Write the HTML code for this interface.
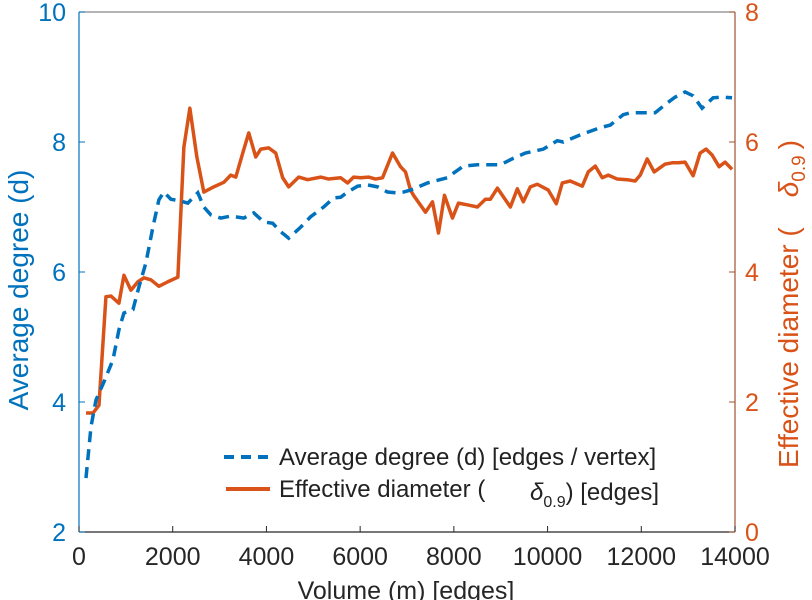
<!DOCTYPE html>
<html><head><meta charset="utf-8"><style>
body{margin:0;background:#fff;}
svg{display:block;font-family:"Liberation Sans",sans-serif;}
</style></head><body>
<svg id="chart" width="812" height="600" viewBox="0 0 812 600">
<g id="axes"></g>
<g id="series"></g>
<g>
  <line x1="224" y1="457" x2="268" y2="457" stroke="#0072BD" stroke-width="4" stroke-dasharray="10,7"/>
  <text x="279" y="465" font-size="24" fill="#222">Average degree (d) [edges / vertex]</text>
  <line x1="226" y1="489" x2="270" y2="489" stroke="#D95319" stroke-width="4"/>
  <text x="279" y="497" font-size="24" fill="#222">Effective diameter (</text>
  <text x="530" y="500" font-size="24" font-style="italic" fill="#222">δ<tspan font-size="16" font-style="normal" dy="7">0.9</tspan><tspan font-style="normal" dy="-7">) [edges]</tspan></text>
</g>
</svg>
<script>
const xTicks=[0,2000,4000,6000,8000,10000,12000,14000];
const leftTicks=[2,4,6,8,10];
const rightTicks=[0,2,4,6,8];
const degX=[149,256,362,533,725,852,959,1151,1279,1428,1577,1705,1811,1961,2174,2323,2536,2664,2813,3026,3239,3516,3729,3942,4134,4305,4475,4731,4944,5221,5434,5583,5732,5945,6158,6372,6585,6755,6926,7075,7437,7864,7991,8205,8503,8993,9270,9526,9909,10207,10335,10697,11124,11337,11614,11763,12296,12552,12722,12935,13106,13298,13532,13745,13937];
const degY=[2.83,3.62,4.03,4.31,4.65,5.11,5.37,5.42,5.77,6.14,6.69,7.11,7.23,7.12,7.09,7.06,7.22,7.00,6.88,6.83,6.86,6.83,6.91,6.77,6.75,6.62,6.52,6.69,6.85,7.00,7.14,7.15,7.23,7.32,7.34,7.31,7.23,7.22,7.23,7.26,7.37,7.45,7.52,7.63,7.65,7.65,7.75,7.83,7.89,8.02,8.00,8.11,8.22,8.26,8.42,8.45,8.45,8.60,8.69,8.77,8.71,8.52,8.68,8.69,8.68];
const diaX=[149,298,426,575,682,852,959,1108,1257,1385,1534,1705,1897,2110,2238,2366,2515,2664,2877,3090,3239,3346,3495,3623,3772,3878,4049,4198,4347,4475,4688,4880,5157,5328,5583,5732,5860,6009,6180,6329,6478,6691,6862,6968,7075,7139,7395,7544,7672,7800,7970,8098,8311,8503,8673,8780,8929,9206,9355,9483,9632,9781,10016,10186,10314,10484,10740,10868,11018,11167,11295,11487,11700,11870,11977,12126,12275,12509,12658,12786,12935,13106,13255,13383,13511,13660,13788,13937];
const diaY=[1.83,1.83,1.95,3.62,3.63,3.52,3.95,3.72,3.85,3.91,3.88,3.78,3.85,3.92,5.92,6.52,5.77,5.23,5.31,5.38,5.49,5.46,5.83,6.14,5.77,5.89,5.91,5.83,5.45,5.31,5.46,5.42,5.46,5.43,5.45,5.37,5.46,5.45,5.46,5.43,5.45,5.83,5.62,5.54,5.26,5.18,4.92,5.08,4.60,5.18,4.83,5.06,5.03,5.00,5.12,5.12,5.29,5.00,5.28,5.08,5.31,5.35,5.26,5.05,5.37,5.40,5.32,5.54,5.63,5.45,5.49,5.43,5.42,5.40,5.49,5.74,5.54,5.66,5.68,5.68,5.69,5.48,5.83,5.89,5.80,5.62,5.69,5.58];

const L=79,R=735,T=12,B=532;
const xs=v=>L+(v-0)/14000*(R-L);
const yl=v=>B-(v-2)/8*(B-T);
const yr=v=>B-v/8*(B-T);
const NS='http://www.w3.org/2000/svg';
function mk(tag,attrs,parent){const e=document.createElementNS(NS,tag);for(const k in attrs)e.setAttribute(k,attrs[k]);parent.appendChild(e);return e;}
const ax=document.getElementById('axes');
const se=document.getElementById('series');

let e=mk('line',{x1:L,y1:B,x2:R,y2:B,stroke:'#262626','stroke-width':1.2},ax);


e=mk('line',{x1:L,y1:T,x2:R,y2:T,stroke:'#888','stroke-width':1.2},ax);


e=mk('line',{x1:L,y1:T,x2:L,y2:B,stroke:'#0072BD','stroke-width':1.2},ax);


e=mk('line',{x1:R,y1:T,x2:R,y2:B,stroke:'#a0522d','stroke-width':1.2},ax);



xTicks.forEach(t=>{
  const x=xs(t);
  let l=mk('line',{x1:x,y1:B,x2:x,y2:B-6,stroke:'#262626','stroke-width':1},ax);
  
  
  let tx=mk('text',{x:x,y:B+33,'text-anchor':'middle','font-size':25,fill:'#262626'},ax);
  tx.textContent=t;
  
  
});
leftTicks.forEach(t=>{
  const y=yl(t);
  let l=mk('line',{x1:L,y1:y,x2:L+6,y2:y,stroke:'#0072BD','stroke-width':1},ax);
  
  
  let tx=mk('text',{x:L-13,y:y+9,'text-anchor':'end','font-size':25,fill:'#0072BD'},ax);
  tx.textContent=t;
  
  
});
rightTicks.forEach(t=>{
  const y=yr(t);
  let l=mk('line',{x1:R,y1:y,x2:R-6,y2:y,stroke:'#a0522d','stroke-width':1},ax);
  
  
  let tx=mk('text',{x:R+10,y:y+9,'text-anchor':'start','font-size':25,fill:'#D95319'},ax);
  tx.textContent=t;
  
  
});
let xl=mk('text',{x:406,y:599,'text-anchor':'middle','font-size':25,fill:'#262626'},ax);
xl.textContent='Volume (m) [edges]';


let ylt=mk('text',{x:0,y:0,'text-anchor':'middle','font-size':28,fill:'#0072BD',transform:'translate(28,290) rotate(-90)'},ax);
ylt.textContent='Average degree (d)';


let yrt=mk('text',{x:0,y:0,'text-anchor':'start','font-size':28,fill:'#D95319',transform:'translate(798,468) rotate(-90)'},ax);


yrt.innerHTML='Effective diameter (<tspan dx="30" font-style="italic">δ</tspan><tspan font-size="19" dy="7">0.9</tspan><tspan dy="-7" dx="6">)</tspan>';

let p1=mk('polyline',{points:diaX.map((v,i)=>xs(v)+','+yr(diaY[i])).join(' '),fill:'none',stroke:'#D95319','stroke-width':3.5,'stroke-linejoin':'round'},se);


let p2=mk('polyline',{points:degX.map((v,i)=>xs(v)+','+yl(degY[i])).join(' '),fill:'none',stroke:'#0072BD','stroke-width':3.5,'stroke-dasharray':'11,7'},se);


</script>
</body></html>
